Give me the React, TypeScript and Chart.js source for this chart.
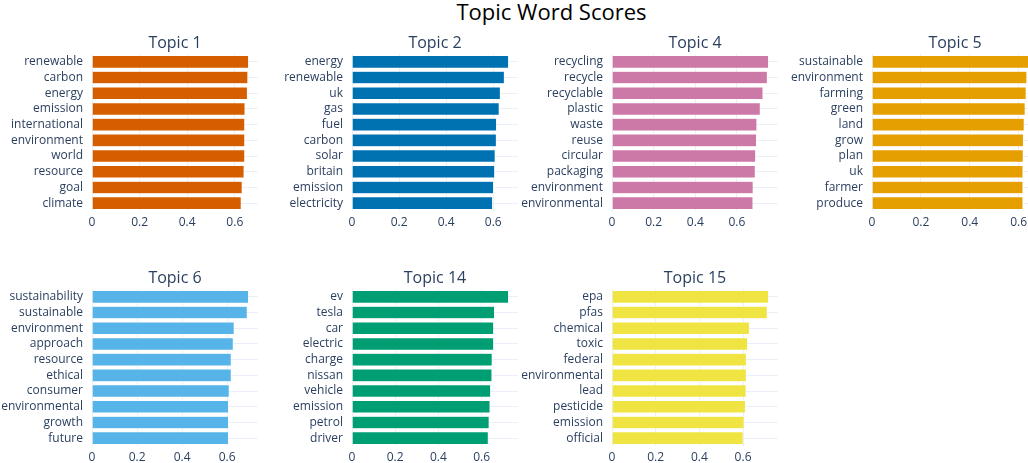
import React, { useEffect, useRef } from "react";
import { Chart, registerables } from "chart.js";

Chart.register(...registerables);

// ---------- data ----------
const chartTitle = "Topic Word Scores";

const topicTitles = ["Topic 1", "Topic 2", "Topic 4", "Topic 5", "Topic 6", "Topic 14", "Topic 15"];
const topicColors = ["#D55E00", "#0072B2", "#CC79A7", "#E69F00", "#56B4E9", "#009E73", "#F0E442"];

const topic1Words = ["renewable", "carbon", "energy", "emission", "international", "environment", "world", "resource", "goal", "climate"];
const topic1Scores = [0.658, 0.655, 0.653, 0.643, 0.642, 0.642, 0.642, 0.639, 0.631, 0.627];

const topic2Words = ["energy", "renewable", "uk", "gas", "fuel", "carbon", "solar", "britain", "emission", "electricity"];
const topic2Scores = [0.665, 0.647, 0.630, 0.625, 0.614, 0.613, 0.608, 0.606, 0.601, 0.597];

const topic4Words = ["recycling", "recycle", "recyclable", "plastic", "waste", "reuse", "circular", "packaging", "environment", "environmental"];
const topic4Scores = [0.752, 0.746, 0.725, 0.712, 0.696, 0.694, 0.690, 0.688, 0.678, 0.677];

const topic5Words = ["sustainable", "environment", "farming", "green", "land", "grow", "plan", "uk", "farmer", "produce"];
const topic5Scores = [0.641, 0.634, 0.631, 0.627, 0.623, 0.620, 0.619, 0.618, 0.618, 0.618];

const topic6Words = ["sustainability", "sustainable", "environment", "approach", "resource", "ethical", "consumer", "environmental", "growth", "future"];
const topic6Scores = [0.695, 0.689, 0.631, 0.627, 0.618, 0.618, 0.609, 0.606, 0.606, 0.606];

const topic14Words = ["ev", "tesla", "car", "electric", "charge", "nissan", "vehicle", "emission", "petrol", "driver"];
const topic14Scores = [0.725, 0.660, 0.656, 0.656, 0.649, 0.648, 0.642, 0.639, 0.635, 0.631];

const topic15Words = ["epa", "pfas", "chemical", "toxic", "federal", "environmental", "lead", "pesticide", "emission", "official"];
const topic15Scores = [0.717, 0.711, 0.629, 0.621, 0.615, 0.615, 0.614, 0.611, 0.605, 0.601];

const allWords = [topic1Words, topic2Words, topic4Words, topic5Words, topic6Words, topic14Words, topic15Words];
const allScores = [topic1Scores, topic2Scores, topic4Scores, topic5Scores, topic6Scores, topic14Scores, topic15Scores];

// ---------- styling / layout ----------
const FONT = '"Open Sans", verdana, arial, sans-serif';
const TEXT = "#2a3f5f";
const GRID = "#EBF0F8";

const COLS = 4;
const PLOT_LEFT0 = 92;
const COL_PITCH = 260;
const PLOT_W = 166;
const PLOT_H = 157;
const ROW_TOPS = [54, 289];
const Y_AXIS_W = 92;
const TOP_PAD = 30;
const X_AXIS_H = 22;

const panelTitlePlugin = {
  id: "panelTitle",
  afterDraw(chart: any, _args: any, opts: any) {
    const { ctx, chartArea } = chart;
    ctx.save();
    ctx.font = `16px ${FONT}`;
    ctx.fillStyle = TEXT;
    ctx.textAlign = "center";
    ctx.textBaseline = "alphabetic";
    ctx.fillText(opts.text, (chartArea.left + chartArea.right) / 2, chartArea.top - 6);
    ctx.restore();
  },
};

function Panel({ index }: { index: number }) {
  const ref = useRef<HTMLCanvasElement>(null);
  const col = index % COLS;
  const row = Math.floor(index / COLS);
  const left = PLOT_LEFT0 + COL_PITCH * col - Y_AXIS_W;
  const top = ROW_TOPS[row] - TOP_PAD;
  const width = Y_AXIS_W + PLOT_W;
  const height = TOP_PAD + PLOT_H + X_AXIS_H;

  useEffect(() => {
    const words = allWords[index];
    const scores = allScores[index];
    const chart = new Chart(ref.current as HTMLCanvasElement, {
      type: "bar",
      data: {
        labels: words,
        datasets: [
          {
            data: scores,
            backgroundColor: topicColors[index],
            borderColor: "#ffffff",
            borderWidth: 0.5,
            barPercentage: 0.8,
            categoryPercentage: 1,
          },
        ],
      },
      options: {
        indexAxis: "y",
        responsive: false,
        animation: false,
        layout: { padding: { top: TOP_PAD, left: 0, right: 0, bottom: 0 } },
        plugins: {
          legend: { display: false },
          tooltip: { enabled: false },
          title: { display: false },
          panelTitle: { text: topicTitles[index] },
        } as any,
        scales: {
          x: {
            type: "linear",
            min: 0,
            max: Math.max(...scores) * 1.06,
            border: { display: false },
            grid: { color: GRID, lineWidth: 1, drawTicks: false },
            ticks: {
              stepSize: 0.2,
              includeBounds: false,
              padding: 4,
              color: TEXT,
              font: { family: FONT, size: 12 },
              maxRotation: 0,
              autoSkip: false,
            },
            afterFit: (s: any) => {
              s.height = X_AXIS_H;
            },
          },
          y: {
            type: "category",
            border: { display: false },
            grid: { color: GRID, lineWidth: 1, drawTicks: false, offset: false },
            ticks: {
              padding: 9,
              color: TEXT,
              font: { family: FONT, size: 12 },
              autoSkip: false,
            },
            afterFit: (s: any) => {
              s.width = Y_AXIS_W;
            },
          },
        },
      } as any,
      plugins: [panelTitlePlugin],
    });
    return () => chart.destroy();
  }, [index]);

  return (
    <canvas
      ref={ref}
      width={width}
      height={height}
      style={{ position: "absolute", left, top, width, height }}
    />
  );
}

export default function App() {
  return (
    <div
      style={{
        position: "absolute",
        left: 0,
        top: 0,
        width: 1028,
        height: 463,
        overflow: "hidden",
        background: "#ffffff",
      }}
    >
      <div
        style={{
          position: "absolute",
          left: 551.5,
          top: 0,
          transform: "translateX(-50%)",
          fontFamily: FONT,
          fontSize: 22,
          lineHeight: "22px",
          color: "#000000",
          whiteSpace: "nowrap",
        }}
      >
        {chartTitle}
      </div>
      {topicTitles.map((_, i) => (
        <Panel key={i} index={i} />
      ))}
    </div>
  );
}
